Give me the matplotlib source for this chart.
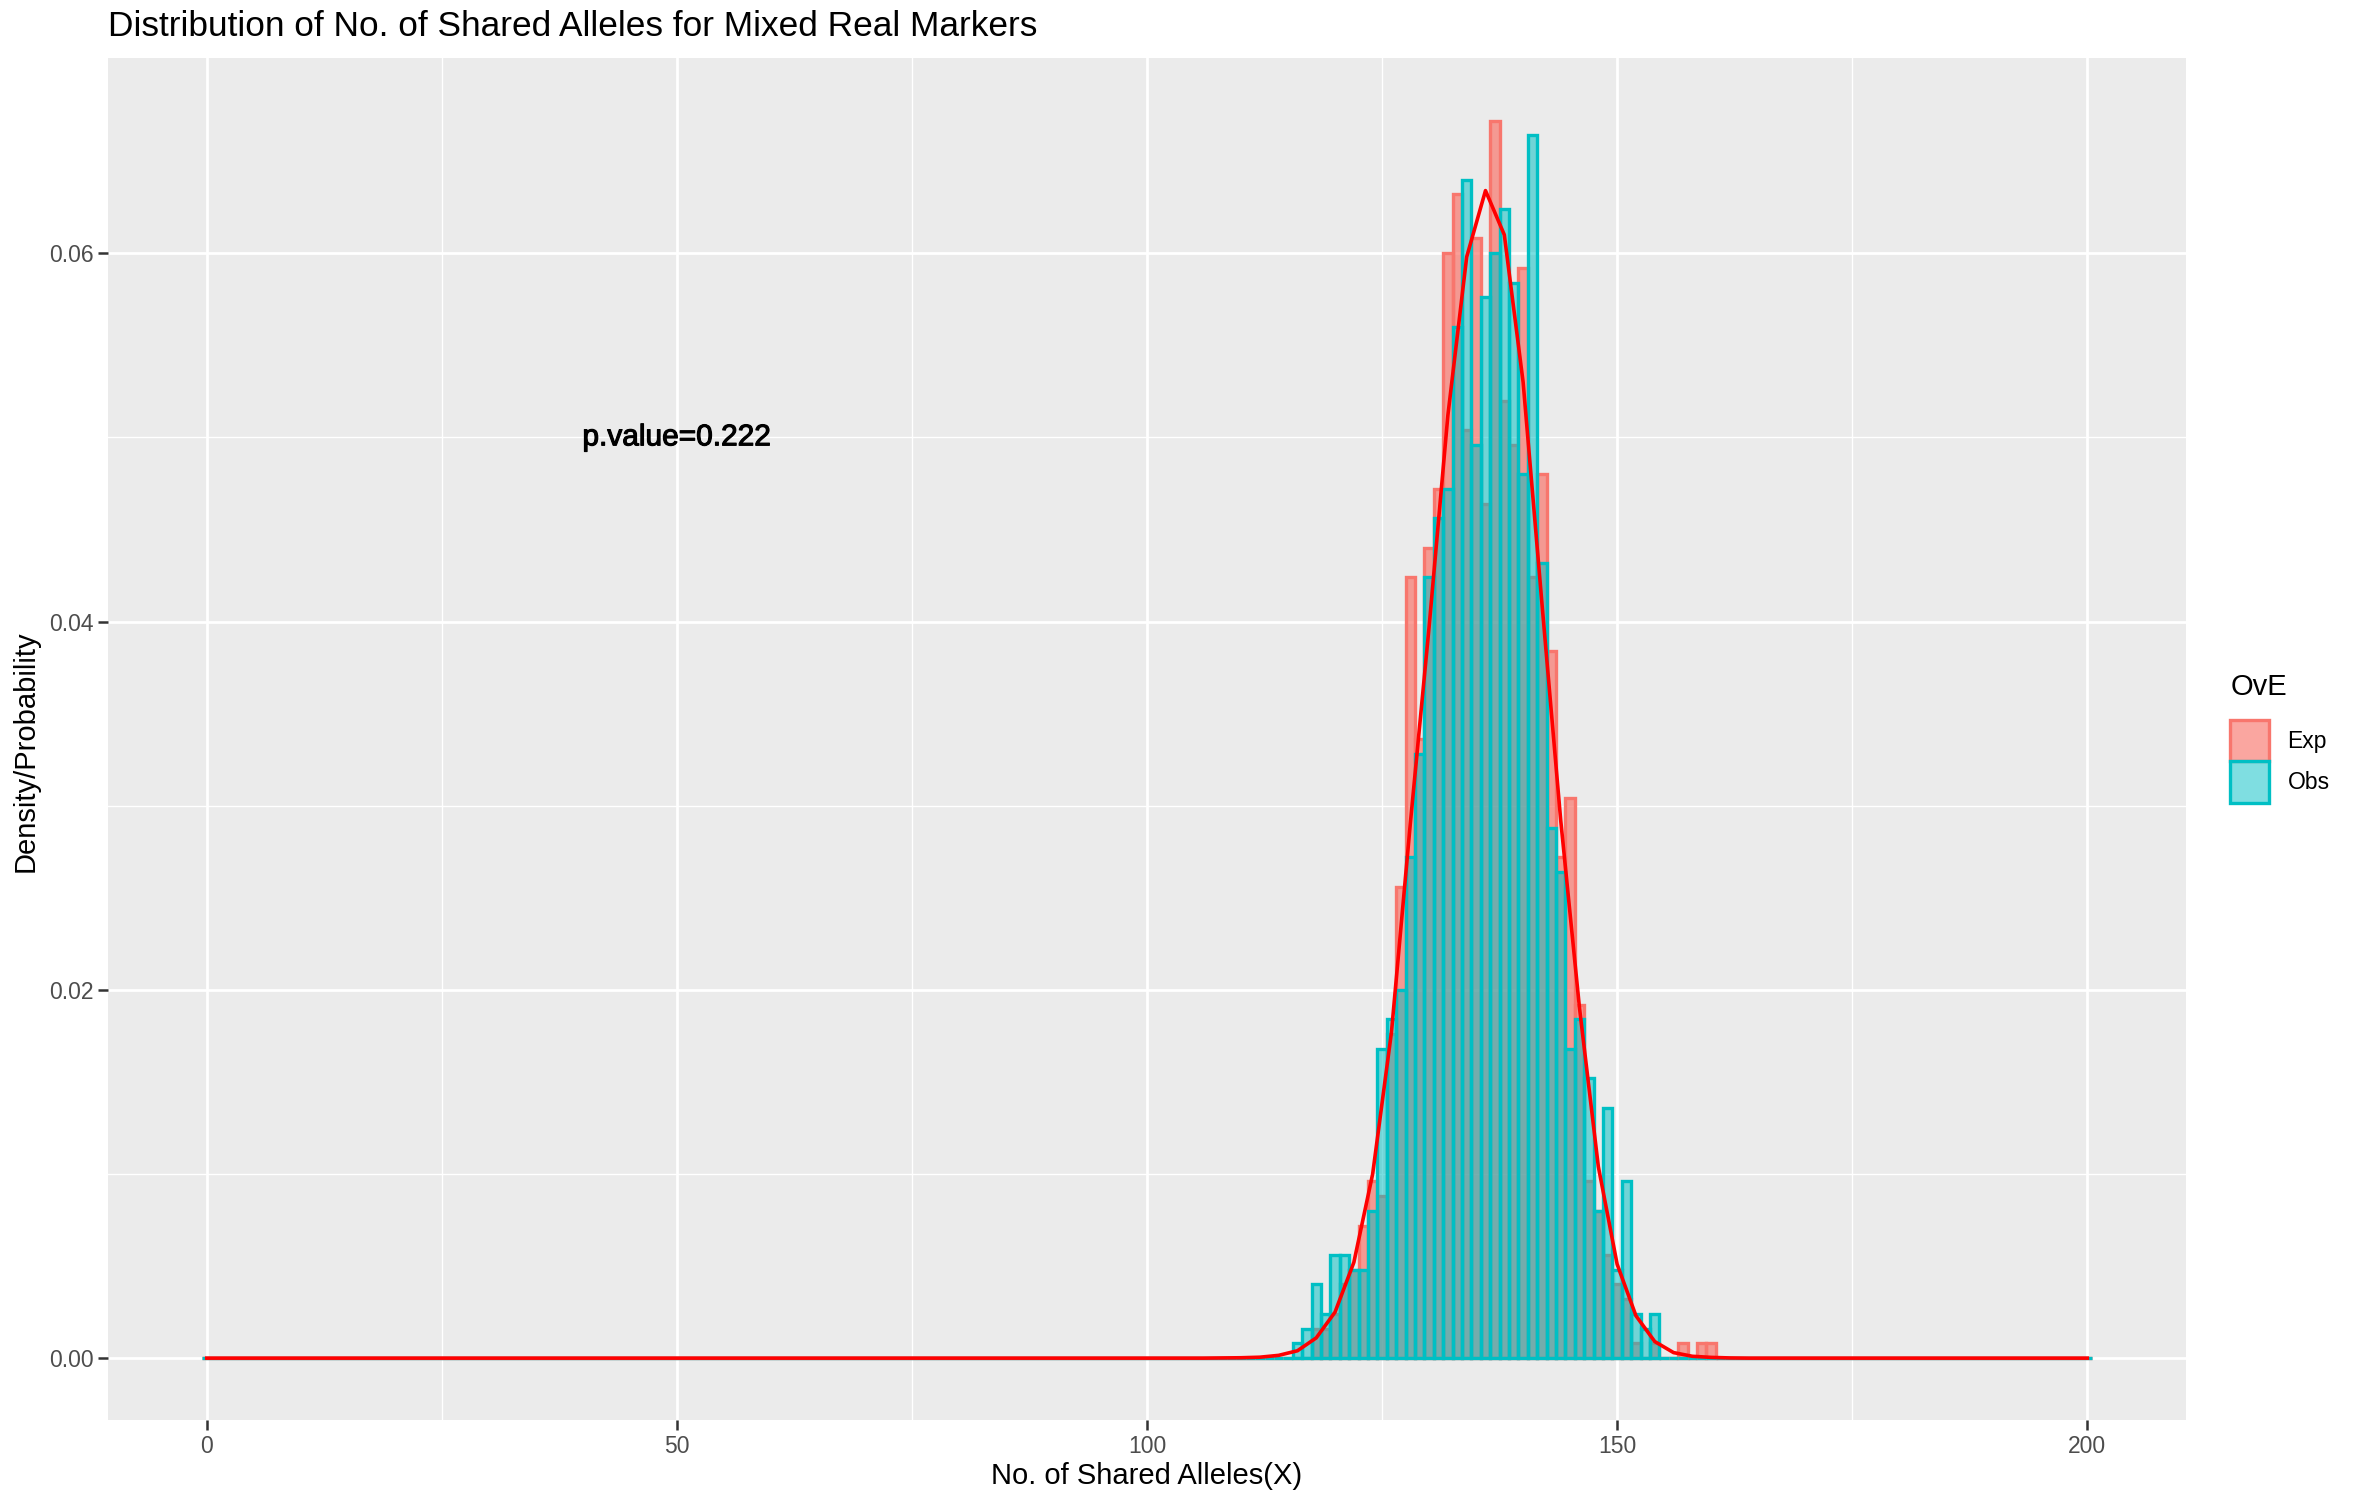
import numpy as np
import matplotlib
matplotlib.use('Agg')
import matplotlib.pyplot as plt
import matplotlib.patheffects as pe
from matplotlib.patches import Patch

plt.rcParams['font.family'] = ['Liberation Sans', 'DejaVu Sans']

# valores (densidade por nº de alelos partilhados)
bins = list(range(116, 161))
exp_vals = [0, 0, 0.0016, 0.0016, 0.0024, 0.0040, 0.0048, 0.0072, 0.0096, 0.0088,
            0.0176, 0.0256, 0.0424, 0.0336, 0.0440, 0.0472, 0.0600, 0.0632, 0.0504, 0.0608,
            0.0464, 0.0672, 0.0520, 0.0496, 0.0592, 0.0424, 0.0480, 0.0384, 0.0272, 0.0304,
            0.0192, 0.0096, 0.0080, 0.0056, 0.0040, 0.0032, 0.0008, 0, 0.0008, 0,
            0, 0.0008, 0, 0.0008, 0.0008]
obs_vals = [0.0008, 0.0016, 0.0040, 0.0024, 0.0056, 0.0056, 0.0048, 0.0048, 0.0080, 0.0168,
            0.0184, 0.0200, 0.0272, 0.0328, 0.0424, 0.0456, 0.0472, 0.0560, 0.0640, 0.0496,
            0.0576, 0.0600, 0.0624, 0.0584, 0.0480, 0.0664, 0.0432, 0.0288, 0.0264, 0.0168,
            0.0184, 0.0152, 0.0080, 0.0136, 0.0048, 0.0096, 0.0024, 0.0016, 0.0024, 0,
            0, 0, 0, 0, 0]

# curva esperada (pontos de 2 em 2)
curve_x = [0] + list(range(104, 170, 2)) + [200]
curve_y = [0, 0, 0, 0.00001, 0.00002, 0.00005, 0.00015, 0.0004, 0.0011, 0.0025, 0.0052,
           0.0100, 0.0177, 0.0290, 0.0397, 0.0512, 0.0598, 0.0634, 0.0610, 0.0530, 0.0410,
           0.0292, 0.0190, 0.0104, 0.0051, 0.0023, 0.0009, 0.0003, 0.0001, 0.00004, 0.00001,
           0, 0, 0, 0]

p_texto = 'p.value=0.222'

# barras de 0 a 200 (as vazias ficam com altura zero)
todos = np.arange(0, 201)
exp_h = np.zeros(len(todos))
obs_h = np.zeros(len(todos))
exp_h[np.array(bins)] = exp_vals
obs_h[np.array(bins)] = obs_vals

W, H = 2362, 1504
fig = plt.figure(figsize=(W / 100, H / 100), dpi=100)
ax = fig.add_axes([108 / W, 84 / H, (2186 - 108) / W, (1446 - 84) / H])
ax.set_facecolor('#EBEBEB')

red = '#F8766D'
teal = '#00BFC4'
ax.bar(todos, exp_h, width=1, color=red, alpha=0.7, edgecolor='none', zorder=2)
ax.bar(todos, exp_h, width=1, color='none', edgecolor=red, linewidth=2.4, zorder=2)
ax.bar(todos, obs_h, width=1, color=teal, alpha=0.52, edgecolor='none', zorder=3)
ax.bar(todos, obs_h, width=1, color='none', edgecolor=teal, linewidth=2.4, zorder=3)
ax.plot(curve_x, curve_y, color='red', linewidth=2.6, zorder=4)

ax.text(50, 0.05, p_texto, ha='center', va='center', fontsize=21.5, color='black', zorder=5,
        path_effects=[pe.withStroke(linewidth=0.8, foreground='black')])

ax.set_xlim(-10.5, 210.5)
ax.set_ylim(-0.00336, 0.0706)
ax.set_xticks([0, 50, 100, 150, 200])
ax.set_xticks([25, 75, 125, 175], minor=True)
ax.set_yticks([0, 0.02, 0.04, 0.06])
ax.set_yticks([0.01, 0.03, 0.05], minor=True)
ax.set_yticklabels(['0.00', '0.02', '0.04', '0.06'])
ax.grid(which='major', color='white', linewidth=2.0, zorder=0)
ax.grid(which='minor', color='white', linewidth=1.0, zorder=0)
ax.set_axisbelow(True)
for s in ax.spines.values():
    s.set_visible(False)
ax.tick_params(which='major', length=7, width=1.8, color='#333333', labelcolor='#4D4D4D',
               labelsize=16.5, pad=3.5)
ax.tick_params(which='minor', length=0)

fig.text(108 / W, 1 - 27 / H, 'Distribution of No. of Shared Alleles for Mixed Real Markers',
         ha='left', va='center', fontsize=25.4)
fig.text(1147 / W, 1 - 1476 / H, 'No. of Shared Alleles(X)', ha='center', va='center', fontsize=21)
fig.text(26 / W, 1 - 751 / H, 'Density/Probability', ha='center', va='center', rotation=90,
         fontsize=21)

handles = [Patch(facecolor=(248 / 255, 118 / 255, 109 / 255, 0.65), edgecolor=red, linewidth=2.4),
           Patch(facecolor=(0, 191 / 255, 196 / 255, 0.5), edgecolor=teal, linewidth=2.4)]
leg = fig.legend(handles, ['Exp', 'Obs'], title='OvE', loc='upper left',
                 bbox_to_anchor=(2221 / W, 1 - 664 / H), frameon=False, fontsize=16.5,
                 title_fontsize=21, handlelength=1.7, handleheight=2.4, labelspacing=0,
                 handletextpad=0.8, borderaxespad=0)
leg.set_alignment('left')
leg._legend_box.sep = 13.5

fig.savefig('out.png', dpi=100)
